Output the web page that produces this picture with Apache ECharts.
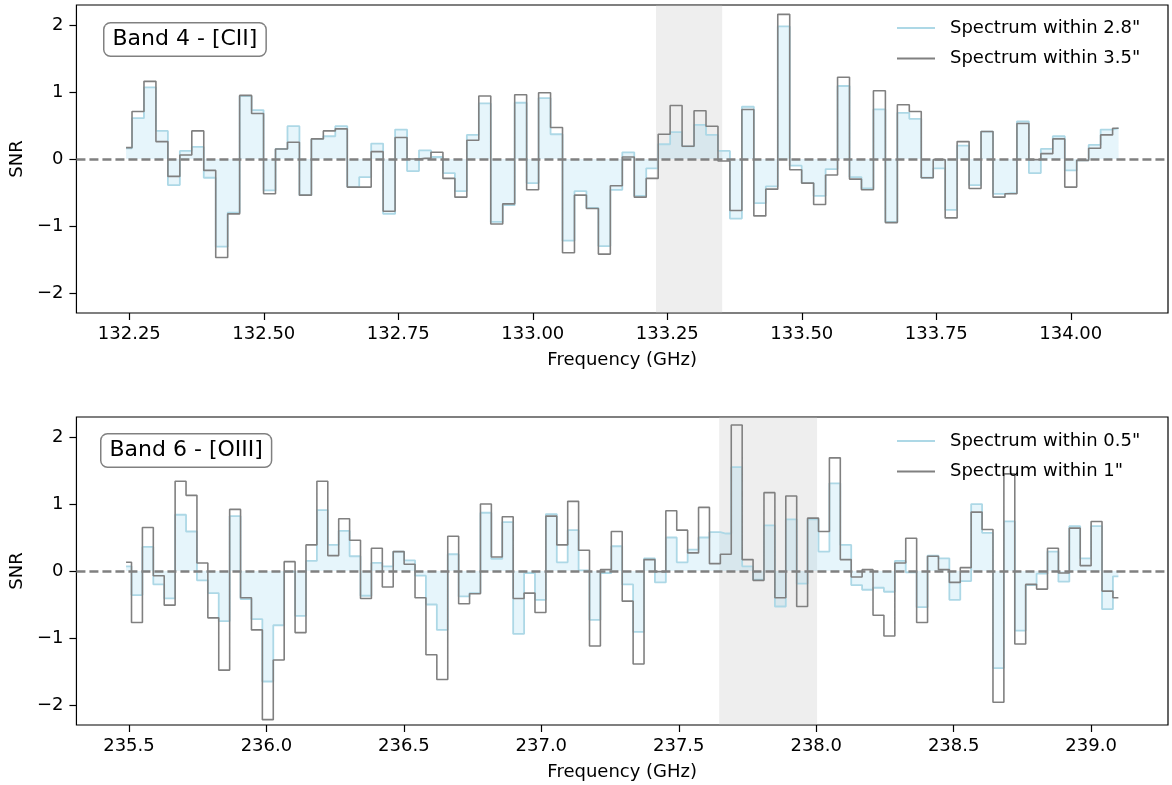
<!DOCTYPE html>
<html>
<head>
<meta charset="utf-8">
<title>SNR spectra</title>
<script src="https://cdn.jsdelivr.net/npm/echarts@6/dist/echarts.min.js"></script>
<style>
  html, body { margin: 0; padding: 0; background: #fff; }
  #chart { width: 1172px; height: 785px; }
</style>
</head>
<body>
<div id="chart"></div>
<script>
// ---- Band 4 : [CII] ------------------------------------------------------
// Channel grid (GHz): first channel centre and channel width
const band4Start = 132.2439;
const band4Width = 0.022228;
// SNR per channel, aperture 2.8"
const snrB4Small = [
  0.16, 0.61, 1.07, 0.42, -0.39, 0.12, 0.18, -0.28, -1.31, -0.80,
  0.94, 0.73, -0.47, 0.15, 0.49, -0.54, 0.30, 0.34, 0.49, -0.42,
  -0.27, 0.23, -0.82, 0.44, -0.18, 0.13, 0.03, -0.21, -0.48, 0.36,
  0.83, -0.94, -0.69, 0.84, -0.36, 0.91, 0.37, -1.22, -0.48, -0.73,
  -1.30, -0.46, 0.10, -0.55, -0.14, 0.22, 0.40, 0.19, 0.51, 0.36,
  0.12, -0.89, 0.78, -0.66, -0.41, 1.98, -0.10, -0.36, -0.55, -0.15,
  1.09, -0.27, -0.44, 0.74, -0.94, 0.69, 0.60, -0.28, -0.14, -0.76,
  0.20, -0.39, 0.41, -0.52, -0.51, 0.56, -0.21, 0.15, 0.34, -0.17,
  -0.02, 0.21, 0.44, 0.46
];
// SNR per channel, aperture 3.5"
const snrB4Large = [
  0.17, 0.71, 1.16, 0.26, -0.26, 0.06, 0.42, -0.17, -1.47, -0.82,
  0.95, 0.68, -0.52, 0.15, 0.25, -0.54, 0.30, 0.42, 0.45, -0.42,
  -0.42, 0.11, -0.78, 0.32, 0.00, 0.01, 0.10, -0.29, -0.57, 0.28,
  0.94, -0.97, -0.67, 0.96, -0.46, 0.99, 0.47, -1.40, -0.54, -0.74,
  -1.42, -0.40, 0.03, -0.57, -0.29, 0.37, 0.80, 0.19, 0.72, 0.49,
  -0.03, -0.77, 0.74, -0.85, -0.45, 2.16, -0.16, -0.36, -0.68, -0.24,
  1.22, -0.30, -0.46, 1.02, -0.95, 0.81, 0.71, -0.28, -0.01, -0.88,
  0.26, -0.44, 0.41, -0.57, -0.52, 0.53, -0.01, 0.08, 0.30, -0.42,
  -0.02, 0.16, 0.36, 0.46
];
const band4Ticks = [132.25, 132.5, 132.75, 133.0, 133.25, 133.5, 133.75, 134.0];
const band4Range = [132.1517, 134.1807];
const band4Line = [133.229, 133.352];

// ---- Band 6 : [OIII] -----------------------------------------------------
const band6Start = 235.4895;
const band6Width = 0.039666;
// SNR per channel, aperture 0.5"
const snrB6Small = [
  0.07, -0.36, 0.36, -0.20, -0.41, 0.84, 0.59, -0.14, -0.33, -0.75,
  0.82, -0.42, -0.72, -1.65, -0.81, -0.01, -0.67, 0.15, 0.91, 0.39,
  0.60, 0.22, -0.37, 0.12, 0.07, 0.29, 0.16, -0.07, -0.50, -0.88,
  0.25, -0.38, -0.33, 0.87, 0.18, 0.73, -0.94, -0.03, -0.43, 0.85,
  0.13, 0.61, 0.01, -0.73, -0.03, 0.37, -0.20, -0.91, 0.19, -0.17,
  0.50, 0.13, 0.32, 0.50, 0.58, 0.56, 1.55, 0.07, -0.13, 0.68,
  -0.53, 0.77, -0.19, 0.77, 0.29, 1.31, 0.39, -0.21, -0.28, -0.25,
  -0.31, 0.15, -0.02, -0.54, 0.23, 0.19, -0.43, -0.15, 1.00, 0.57,
  -1.45, 0.74, -0.89, -0.21, -0.04, 0.29, -0.16, 0.67, 0.19, 0.67,
  -0.57, -0.08
];
// SNR per channel, aperture 1"
const snrB6Large = [
  0.13, -0.77, 0.65, -0.07, -0.51, 1.34, 1.13, 0.12, -0.70, -1.48,
  0.92, -0.40, -0.88, -2.22, -1.33, 0.14, -0.92, 0.39, 1.34, 0.23,
  0.78, 0.46, -0.41, 0.34, -0.24, 0.29, 0.10, -0.40, -1.25, -1.62,
  0.52, -0.49, -0.34, 1.00, 0.21, 0.81, -0.41, -0.33, -0.62, 0.82,
  0.39, 1.04, 0.31, -1.12, 0.02, 0.59, -0.45, -1.39, 0.17, -0.01,
  0.90, 0.61, 0.27, 0.95, 0.11, 0.25, 2.18, 0.17, -0.14, 1.17,
  -0.40, 1.12, -0.53, 0.79, 0.59, 1.69, 0.17, -0.09, 0.02, -0.66,
  -0.97, 0.12, 0.49, -0.77, 0.22, 0.02, -0.17, 0.05, 0.88, 0.62,
  -1.96, 1.45, -1.09, -0.20, -0.27, 0.34, -0.03, 0.64, 0.08, 0.74,
  -0.30, -0.40
];
const band6Ticks = [235.5, 236.0, 236.5, 237.0, 237.5, 238.0, 238.5, 239.0];
const band6Range = [235.3090, 239.2796];
const band6Line = [237.647, 238.003];

const snrTicks = [-2, -1, 0, 1, 2];
const snrRange = [-2.3, 2.3];

// Pair each SNR value with the centre frequency of its channel
function spectrum(start, width, values) {
  return values.map((v, i) => [start + i * width, v]);
}

const FONT = 'DejaVu Sans';
const FS = 18;
const minus = v => (v < 0 ? '\u2212' + Math.abs(v) : String(v));
// plain horizontal bar used as the legend key
const LINE_ICON = 'path://M0,0 L40,0 L40,2 L0,2 Z';

function xAxisFor(gridIndex, range, ticks, digits) {
  return {
    type: 'value', gridIndex, min: range[0], max: range[1],
    axisLine: { show: false, onZero: false },
    axisTick: { show: true, length: 7, customValues: ticks, lineStyle: { color: '#000', width: 1.2 } },
    axisLabel: { customValues: ticks, formatter: v => v.toFixed(digits), margin: 12,
                 color: '#000', fontSize: FS, fontFamily: FONT },
    splitLine: { show: false },
    name: 'Frequency (GHz)', nameLocation: 'middle', nameGap: 38,
    nameTextStyle: { color: '#000', fontSize: FS, fontFamily: FONT }
  };
}
function yAxisFor(gridIndex) {
  return {
    type: 'value', gridIndex, min: snrRange[0], max: snrRange[1],
    axisLine: { show: false, onZero: false },
    axisTick: { show: true, length: 7, customValues: snrTicks, lineStyle: { color: '#000', width: 1.2 } },
    axisLabel: { customValues: snrTicks, formatter: minus, margin: 13,
                 color: '#000', fontSize: FS, fontFamily: FONT },
    splitLine: { show: false },
    name: 'SNR', nameLocation: 'middle', nameRotate: 90, nameGap: 48,
    nameTextStyle: { color: '#000', fontSize: FS, fontFamily: FONT }
  };
}
function smallAperture(name, idx, data, band) {
  return {
    type: 'line', name, xAxisIndex: idx, yAxisIndex: idx, data,
    step: 'middle', symbol: 'none', z: 2,
    lineStyle: { color: '#add8e6', width: 1.8 },
    itemStyle: { color: '#add8e6' },
    areaStyle: { color: 'rgba(135,206,235,0.3)', origin: 'auto' },
    markArea: { silent: true, itemStyle: { color: 'rgba(190,190,190,0.26)' },
                data: [[{ xAxis: band[0] }, { xAxis: band[1] }]] }
  };
}
function largeAperture(name, idx, data) {
  return {
    type: 'line', name, xAxisIndex: idx, yAxisIndex: idx, data,
    step: 'middle', symbol: 'none', z: 3,
    lineStyle: { color: '#808080', width: 1.6 },
    itemStyle: { color: '#808080' },
    markLine: { silent: true, symbol: 'none', label: { show: false },
                lineStyle: { color: '#808080', type: [9, 4], width: 2.6 },
                data: [{ yAxis: 0 }] }
  };
}
function legendFor(top, names) {
  return {
    data: names.map(n => ({ name: n, icon: LINE_ICON })),
    orient: 'vertical', left: 897, top, padding: 0,
    itemWidth: 38, itemHeight: 2, itemGap: 12.5,
    textStyle: { color: '#000', fontSize: FS, fontFamily: FONT, padding: [0, 0, 0, 10] }
  };
}
function bandLabel(left, top, text) {
  return {
    type: 'text', left, top, z: 10,
    style: { text, font: '22px "DejaVu Sans"', fill: '#000',
             backgroundColor: '#fff', borderColor: '#808080', borderWidth: 1.5,
             borderRadius: 6, padding: [5, 8, 5, 8] }
  };
}

const names4 = ['Spectrum within 2.8"', 'Spectrum within 3.5"'];
const names6 = ['Spectrum within 0.5"', 'Spectrum within 1"'];

const chart = echarts.init(document.getElementById('chart'), null, { renderer: 'canvas' });
chart.setOption({
  animation: false,
  backgroundColor: '#fff',
  grid: [
    { left: 76, top: 5, width: 1092, height: 308, show: true, borderColor: '#000', borderWidth: 1.2 },
    { left: 76, top: 417, width: 1092, height: 308, show: true, borderColor: '#000', borderWidth: 1.2 }
  ],
  xAxis: [xAxisFor(0, band4Range, band4Ticks, 2), xAxisFor(1, band6Range, band6Ticks, 1)],
  yAxis: [yAxisFor(0), yAxisFor(1)],
  legend: [legendFor(19, names4), legendFor(432, names6)],
  series: [
    smallAperture(names4[0], 0, spectrum(band4Start, band4Width, snrB4Small), band4Line),
    largeAperture(names4[1], 0, spectrum(band4Start, band4Width, snrB4Large)),
    smallAperture(names6[0], 1, spectrum(band6Start, band6Width, snrB6Small), band6Line),
    largeAperture(names6[1], 1, spectrum(band6Start, band6Width, snrB6Large))
  ],
  graphic: [
    bandLabel(103, 22, 'Band 4 - [CII]'),
    bandLabel(100, 433, 'Band 6 - [OIII]')
  ]
});
</script>
</body>
</html>
